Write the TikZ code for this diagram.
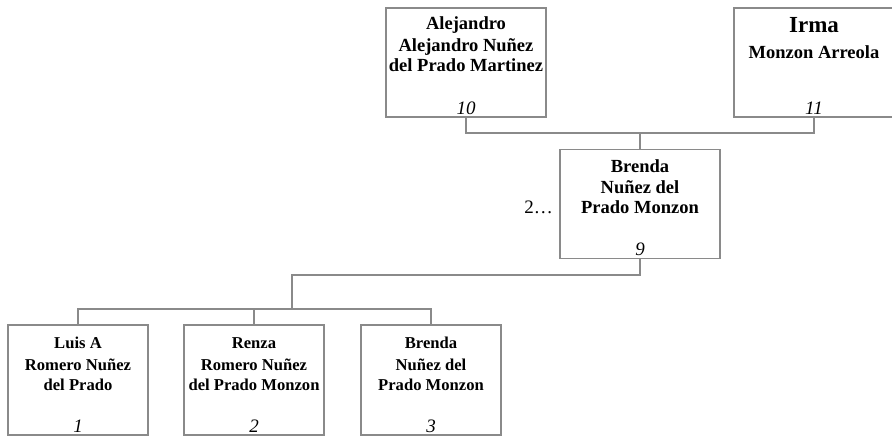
\documentclass[tikz,border=0pt]{standalone}
\usepackage{fontspec}
\setmainfont{Liberation Serif}
\definecolor{linegray}{HTML}{8A8A8A}
\tikzset{
  pbox/.style={draw=linegray, line width=1.2pt, rectangle, inner sep=0pt, minimum width=160pt, minimum height=109pt},
  sbox/.style={draw=linegray, line width=1.2pt, rectangle, inner sep=0pt, minimum width=140pt, minimum height=110pt},
  conn/.style={draw=linegray, line width=1.2pt},
  nm/.style={anchor=base, inner sep=0pt, font=\fontsize{18.5}{22}\selectfont\bfseries},
  snm/.style={anchor=base, inner sep=0pt, font=\fontsize{16.6}{20}\selectfont\bfseries},
  big/.style={anchor=base, inner sep=0pt, font=\fontsize{23}{26}\selectfont\bfseries},
  num/.style={anchor=base, inner sep=0pt, font=\fontsize{19}{22}\selectfont\itshape},
  gen/.style={anchor=base east, inner sep=0pt, font=\fontsize{19}{22}\selectfont},
}
\begin{document}
\begin{tikzpicture}[x=1pt, y=-1pt]
\useasboundingbox (0,0) rectangle (892,437);
% boxes
\node[pbox] (b10) at (466,62.5) {};
\node[pbox] (b11) at (814,62.5) {};
\node[pbox] (b9) at (640,204) {};
\node[sbox] (b1) at (78,380) {};
\node[sbox] (b2) at (254,380) {};
\node[sbox] (b3) at (431,380) {};
% texts box 10
\node[nm] (t10a) at (466,29.5) {Alejandro};
\node[nm] (t10b) at (466,51) {Alejandro Nuñez};
\node[nm] (t10c) at (466,71.5) {del Prado Martinez};
\node[num] (n10) at (466,114) {10};
% box 11
\node[big] (t11a) at (814,32) {Irma};
\node[nm] (t11b) at (814,58) {Monzon Arreola};
\node[num] (n11) at (814,114) {11};
% box 9
\node[nm] (t9a) at (640,172) {Brenda};
\node[nm] (t9b) at (640,193) {Nuñez del};
\node[nm] (t9c) at (640,213) {Prado Monzon};
\node[num] (n9) at (640,255) {9};
\node[gen] (g9) at (553,213) {2\ldots};
% box 1
\node[snm] (t1a) at (78,348) {Luis A};
\node[snm] (t1b) at (78,370) {Romero Nuñez};
\node[snm] (t1c) at (78,390) {del Prado};
\node[num] (n1) at (78,432) {1};
% box 2
\node[snm] (t2a) at (254,348) {Renza};
\node[snm] (t2b) at (254,370) {Romero Nuñez};
\node[snm] (t2c) at (254,390) {del Prado Monzon};
\node[num] (n2) at (254,432) {2};
% box 3
\node[snm] (t3a) at (431,348) {Brenda};
\node[snm] (t3b) at (431,370) {Nuñez del};
\node[snm] (t3c) at (431,390) {Prado Monzon};
\node[num] (n3) at (431,432) {3};
% connectors
\coordinate (m1) at (640,133);
\coordinate (m2) at (292,275);
\coordinate (m3) at (292,309);
\draw[conn] (b10.south) |- (m1) -| (b11.south);
\draw[conn] (m1) -- (b9.north);
\draw[conn] (b9.south) |- (m2) -- (m3);
\draw[conn] (b1.north) |- (m3) -| (b3.north);
\draw[conn] (b2.north) -- (b2.north |- m3);
\end{tikzpicture}
\end{document}
